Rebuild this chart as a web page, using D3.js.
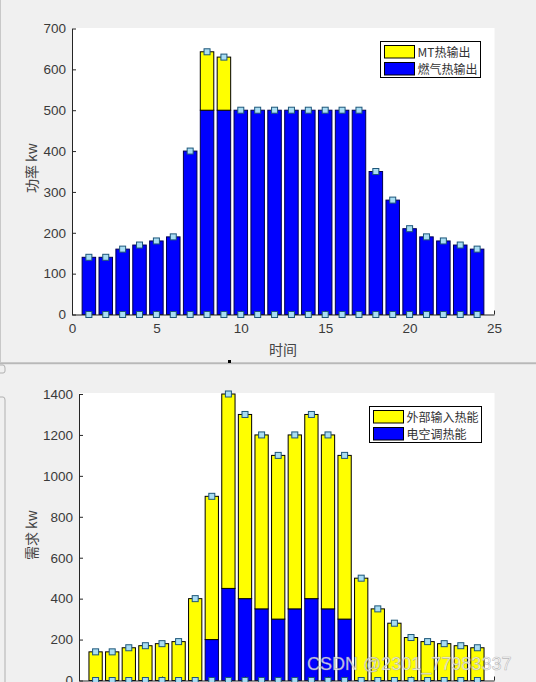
<!DOCTYPE html>
<html><head><meta charset="utf-8">
<script src="https://cdn.jsdelivr.net/npm/d3@7"></script>
<style>
html,body{margin:0;padding:0;background:#f0f0f0;}
svg{display:block;}
text{font-family:"Liberation Sans",Arial,sans-serif;}
.cjk{font-family:"Noto Sans CJK SC",sans-serif;}
</style></head>
<body>
<svg id="c" width="536" height="682"></svg>
<script>
// ---- data ----
const hours = [1,2,3,4,5,6,7,8,9,10,11,12,13,14,15,16,17,18,19,20,21,22,23,24];
const gasHeat = [140,140,160,170,180,190,400,500,500,500,500,500,500,500,500,500,500,350,280,210,190,180,170,160];
const mtHeat  = [0,0,0,0,0,0,0,143,130,0,0,0,0,0,0,0,0,0,0,0,0,0,0,0];
const acHeat  = [0,0,0,0,0,0,0,200,450,400,350,300,350,400,350,300,0,0,0,0,0,0,0,0];
const extHeat = [140,140,160,170,180,190,400,700,950,900,850,800,850,900,850,800,500,350,280,210,190,180,170,160];
const xTicks = [0,5,10,15,20,25];
const yTicksTop = [0,100,200,300,400,500,600,700];
const yTicksBottom = [0,200,400,600,800,1000,1200,1400];
const topLegend = ["MT热输出","燃气热输出"];
const bottomLegend = ["外部输入热能","电空调热能"];

const svg = d3.select("#c");
const YELLOW = "#ffff00", BLUE = "#0000ff";
const MK_FILL = "#a9ddf3", MK_EDGE = "#1d5679";

// background / window artifacts
svg.append("rect").attr("x",0).attr("y",0).attr("width",536).attr("height",682).attr("fill","#f0f0f0");
svg.append("line").attr("x1",0.5).attr("x2",0.5).attr("y1",0).attr("y2",362).attr("stroke","#c8c8c8");
svg.append("rect").attr("x",0).attr("y",362.5).attr("width",536).attr("height",1.2).attr("fill","#a0a0a0");
svg.append("rect").attr("x",0).attr("y",364).attr("width",536).attr("height",1).attr("fill","#e4e4e4");
svg.append("rect").attr("x",228).attr("y",360).attr("width",3).attr("height",3).attr("fill","#000");
svg.append("path").attr("d","M0,365 L3,365 Q5,365 5,368 L5,371 Q5,373 3,373 L0,373").attr("fill","none").attr("stroke","#b0b0b0");
svg.append("path").attr("d","M0,397 L3,397 Q5,397 5,400 L5,682").attr("fill","none").attr("stroke","#b0b0b0");

function drawChart(cfg){
  const g = svg.append("g");
  const x = d3.scaleLinear().domain([0,25]).range([cfg.x0, cfg.x1]);
  const y = d3.scaleLinear().domain(cfg.yDomain).range([cfg.y0, cfg.y1]);
  // white plot area
  g.append("rect").attr("x",cfg.x0).attr("y",cfg.boxTop).attr("width",cfg.x1-cfg.x0+0.5)
    .attr("height",cfg.boxBottom-cfg.boxTop).attr("fill","#fff");
  const rows = hours.map((h,i)=>({h, a:cfg.bottomSeries[i], b:cfg.topSeries[i]}));
  const stack = d3.stack().keys(["a","b"])(rows);
  const colors = [BLUE, YELLOW];
  const bw = (x(0.8)-x(0));
  stack.forEach((layer,li)=>{
    g.append("g").selectAll("rect").data(layer.filter(d=>d[1]-d[0]>0)).join("rect")
      .attr("x",d=>x(d.data.h)-bw/2).attr("width",bw)
      .attr("y",d=>y(d[1])).attr("height",d=>y(d[0])-y(d[1]))
      .attr("fill",colors[li]).attr("stroke",li===0?"#000050":"#000").attr("stroke-width",1);
  });
  // axes
  const ax = d3.axisBottom(x).tickValues(xTicks).tickSizeInner(-4).tickSizeOuter(0).tickPadding(9)
    .tickFormat(cfg.showXLabels ? d3.format("d") : ()=>"");
  const ay = d3.axisLeft(y).tickValues(cfg.yTicks).tickSizeInner(-4).tickSizeOuter(0).tickPadding(6)
    .tickFormat(d3.format("d"));
  const gx = g.append("g").attr("transform",`translate(0,${cfg.y0})`).call(ax);
  const gy = g.append("g").attr("transform",`translate(${cfg.x0},0)`).call(ay);
  [gx,gy].forEach(a=>{
    a.select(".domain").attr("stroke","#262626");
    a.selectAll(".tick line").attr("stroke","#262626");
    a.selectAll(".tick text").attr("fill","#3a3a3a").style("font-size","13.5px")
      .style("font-family","'Liberation Sans',Arial,sans-serif");
  });
  if(!cfg.showXLabels) gx.selectAll(".tick text").remove();
  // markers at totals and at zero
  const tot = hours.map((h,i)=>({h, v:cfg.bottomSeries[i]+cfg.topSeries[i]}));
  const ms = 6;
  const mk = g.append("g");
  mk.selectAll("rect.t").data(tot).join("rect").attr("class","t")
    .attr("x",d=>x(d.h)-ms/2).attr("y",d=>y(d.v)-ms/2).attr("width",ms).attr("height",ms)
    .attr("fill",MK_FILL).attr("stroke",MK_EDGE).attr("stroke-width",1);
  mk.selectAll("rect.z").data(tot).join("rect").attr("class","z")
    .attr("x",d=>x(d.h)-ms/2).attr("y",y(0)-ms/2).attr("width",ms).attr("height",ms)
    .attr("fill",MK_FILL).attr("stroke",MK_EDGE).attr("stroke-width",1);
  // y label
  g.append("text").attr("class","cjk").attr("transform",`translate(${cfg.ylabX},${cfg.ylabY}) rotate(-90)`)
    .attr("text-anchor","middle").attr("fill","#444").style("font-size","14px").text(cfg.ylabel);
  if(cfg.xlabel){
    g.append("text").attr("class","cjk").attr("x",(cfg.x0+cfg.x1)/2).attr("y",cfg.xlabY)
      .attr("text-anchor","middle").attr("fill","#444").style("font-size","14px").text(cfg.xlabel);
  }
  // legend
  const L = cfg.legend;
  const lg = g.append("g");
  lg.append("rect").attr("x",L.x).attr("y",L.y).attr("width",L.w).attr("height",L.h)
    .attr("fill","#fff").attr("stroke","#000").attr("stroke-width",1);
  [YELLOW,BLUE].forEach((c,i)=>{
    const sy = L.y + 4 + i*17;
    lg.append("rect").attr("x",L.x+4).attr("y",sy).attr("width",30).attr("height",12.5)
      .attr("fill",c).attr("stroke","#000").attr("stroke-width",1);
    lg.append("text").attr("class","cjk").attr("x",L.x+37).attr("y",sy+11)
      .attr("fill","#333").style("font-size","12px").text(L.labels[i]);
  });
}

drawChart({
  x0:72, x1:494, y0:314.5, y1:28.5, boxTop:28, boxBottom:314.5,
  yDomain:[0,700], yTicks:yTicksTop, showXLabels:true,
  bottomSeries:gasHeat, topSeries:mtHeat,
  ylabel:"功率 kw", ylabX:37, ylabY:168, xlabel:"时间", xlabY:355,
  legend:{x:380.5, y:41.5, w:100, h:36, labels:topLegend}
});
drawChart({
  x0:79, x1:494, y0:680.5, y1:394, boxTop:393, boxBottom:690,
  yDomain:[0,1400], yTicks:yTicksBottom, showXLabels:false,
  bottomSeries:acHeat, topSeries:extHeat,
  ylabel:"需求 kw", ylabX:37, ylabY:535, xlabel:null,
  legend:{x:369.5, y:406.5, w:112, h:36, labels:bottomLegend}
});

// watermark
svg.append("text").attr("x",307).attr("y",670).style("font-size","18px")
  .attr("fill","rgba(255,255,255,0.8)").attr("stroke","rgba(140,140,140,0.6)").attr("stroke-width",0.6)
  .text("CSDN @2301_77983337");
</script>
</body></html>
